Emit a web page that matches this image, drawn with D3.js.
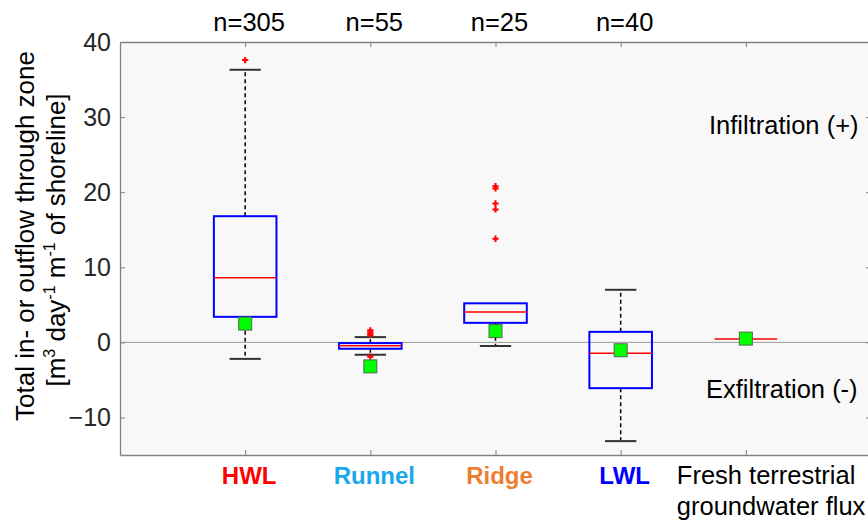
<!DOCTYPE html>
<html>
<head>
<meta charset="utf-8">
<script src="https://cdn.jsdelivr.net/npm/d3@7"></script>
<style>
  body { margin: 0; background: #fff; }
  svg { font-family: "Liberation Sans", Arial, sans-serif; }
  .axis path, .axis line { stroke: #808080; }
  .axis text { fill: #262626; font-size: 25px; }
</style>
</head>
<body>
<svg id="chart" width="868" height="523"></svg>
<script>
// zones along the beach profile
const categories = ["HWL", "Runnel", "Ridge", "LWL", "Fresh terrestrial groundwater flux"];
const categoryColors = ["#ff0000", "#1aa7ec", "#ed7d31", "#0000ff", "#000000"];
const counts = ["n=305", "n=55", "n=25", "n=40"];

// box statistics, m3 day-1 m-1 of shoreline
const q1 = [3.4, -0.85, 2.6, -6.1, 0.45];
const median = [8.6, -0.45, 4.05, -1.45, 0.45];
const q3 = [16.8, -0.1, 5.2, 1.4, 0.45];
const whiskerLow = [-2.2, -1.65, -0.5, -13.15, null];
const whiskerHigh = [36.3, 0.7, 5.2, 7.0, null];
const means = [2.5, -3.2, 1.5, -1.05, 0.5];
const outliers = [[37.6], [1.6, 1.3, 1.0, -1.9], [20.8, 20.5, 18.5, 17.7, 13.8], [], []];

const yTicks = [-10, 0, 10, 20, 30, 40];

const width = 868;
const height = 523;
const margin = { top: 42, right: -3, bottom: 68, left: 120 };
const fs = 25.5;

const svg = d3.select("#chart");

const x = d3.scaleLinear().domain([0, 6]).range([margin.left, width - margin.right]);
const y = d3.scaleLinear().domain([-15, 40]).range([height - margin.bottom, margin.top]);

const boxHalf = (x(1) - x(0)) * 0.25;
const capHalf = (x(1) - x(0)) * 0.125;

// plot background
svg.append("rect")
  .attr("x", x(0)).attr("y", y(40))
  .attr("width", x(6) - x(0)).attr("height", y(-15) - y(40))
  .attr("fill", "#f8f8f8");

// zero line
svg.append("line")
  .attr("x1", x(0)).attr("x2", x(6))
  .attr("y1", y(0)).attr("y2", y(0))
  .attr("stroke", "#999").attr("stroke-width", 1);

// axes, ticks pointing inward like the matlab box
const idx = d3.range(1, categories.length + 1);

svg.append("g").attr("class", "axis")
  .attr("transform", `translate(${x(0)},0)`)
  .call(d3.axisLeft(y).tickValues(yTicks).tickSizeInner(-5).tickSizeOuter(0).tickPadding(9));

svg.append("g").attr("class", "axis")
  .attr("transform", `translate(${x(6)},0)`)
  .call(d3.axisRight(y).tickValues(yTicks).tickSizeInner(-5).tickSizeOuter(0).tickFormat(""));

svg.append("g").attr("class", "axis")
  .attr("transform", `translate(0,${y(-15)})`)
  .call(d3.axisBottom(x).tickValues(idx).tickSizeInner(-5).tickSizeOuter(0).tickFormat(""));

svg.append("g").attr("class", "axis")
  .attr("transform", `translate(0,${y(40)})`)
  .call(d3.axisTop(x).tickValues(idx).tickSizeInner(-5).tickSizeOuter(0).tickFormat(""));

svg.selectAll(".axis .domain").attr("stroke-width", 1.3);

const groups = svg.append("g").selectAll("g")
  .data(categories)
  .join("g")
  .attr("transform", (d, i) => `translate(${x(i + 1)},0)`);

// whiskers
groups.each(function (d, i) {
  if (whiskerHigh[i] === null) return;
  const g = d3.select(this);
  g.append("line")
    .attr("y1", y(q3[i])).attr("y2", y(whiskerHigh[i]))
    .attr("stroke", "#000").attr("stroke-width", 1.5).attr("stroke-dasharray", "4,3");
  g.append("line")
    .attr("y1", y(q1[i])).attr("y2", y(whiskerLow[i]))
    .attr("stroke", "#000").attr("stroke-width", 1.5).attr("stroke-dasharray", "4,3");
  [whiskerHigh[i], whiskerLow[i]].forEach(v => {
    if (v === q3[i]) return; // cap hidden under the box edge
    g.append("line")
      .attr("x1", -capHalf).attr("x2", capHalf)
      .attr("y1", y(v)).attr("y2", y(v))
      .attr("stroke", "#333").attr("stroke-width", 2);
  });
});

// boxes
groups.filter((d, i) => q3[i] > q1[i]).append("rect")
  .attr("x", -boxHalf)
  .attr("width", boxHalf * 2)
  .attr("y", d => y(q3[categories.indexOf(d)]))
  .attr("height", d => y(q1[categories.indexOf(d)]) - y(q3[categories.indexOf(d)]))
  .attr("fill", "none")
  .attr("stroke", "#0000ff")
  .attr("stroke-width", 2);

// medians
groups.append("line")
  .attr("x1", -boxHalf).attr("x2", boxHalf)
  .attr("y1", (d, i) => y(median[i])).attr("y2", (d, i) => y(median[i]))
  .attr("stroke", "#ff0000").attr("stroke-width", 1.5);

// outliers as red plus signs
const plus = d3.symbol().type(d3.symbolCross).size(22);
groups.each(function (d, i) {
  d3.select(this).selectAll("path.out")
    .data(outliers[i])
    .join("path")
    .attr("class", "out")
    .attr("transform", v => `translate(0,${y(v)})`)
    .attr("d", plus)
    .attr("fill", "#ff0000");
});

// means
groups.append("rect")
  .attr("x", -6.5).attr("width", 13)
  .attr("y", (d, i) => y(means[i]) - 6.5).attr("height", 13)
  .attr("fill", "#00ff00")
  .attr("stroke", "#4d6b4d")
  .attr("stroke-width", 1);

// sample size labels
svg.append("g").selectAll("text")
  .data(counts)
  .join("text")
  .attr("x", (d, i) => x(i + 1) + 4)
  .attr("y", 31)
  .attr("text-anchor", "middle")
  .attr("font-size", fs)
  .attr("fill", "#000")
  .text(d => d);

// category labels
const catLabels = svg.append("g").selectAll("text")
  .data(categories)
  .join("text")
  .attr("y", 484)
  .attr("font-size", 24)
  .attr("fill", (d, i) => categoryColors[i]);

catLabels.filter((d, i) => i < 4)
  .attr("x", (d, i) => x(i + 1) + 4)
  .attr("text-anchor", "middle")
  .attr("font-weight", "bold")
  .text(d => d);

catLabels.filter((d, i) => i === 4)
  .attr("font-size", fs)
  .attr("text-anchor", "start")
  .each(function () {
    const t = d3.select(this);
    t.append("tspan").attr("x", x(5) - 69).text("Fresh terrestrial");
    t.append("tspan").attr("x", x(5) - 69).attr("dy", 31).text("groundwater flux");
  });

// annotations
svg.append("text")
  .attr("x", 709).attr("y", 134)
  .attr("font-size", fs)
  .text("Infiltration (+)");

svg.append("text")
  .attr("x", 706).attr("y", 398)
  .attr("font-size", fs)
  .text("Exfiltration (-)");

// y axis title
svg.append("text")
  .attr("transform", "translate(34,236) rotate(-90)")
  .attr("text-anchor", "middle")
  .attr("font-size", 26)
  .text("Total in- or outflow through zone");

const yl2 = svg.append("text")
  .attr("transform", "translate(65,240) rotate(-90)")
  .attr("text-anchor", "middle")
  .attr("font-size", 26);
yl2.append("tspan").text("[m");
yl2.append("tspan").attr("font-size", 16).attr("dy", -10).text("3");
yl2.append("tspan").attr("dy", 10).text(" day");
yl2.append("tspan").attr("font-size", 16).attr("dy", -10).text("-1");
yl2.append("tspan").attr("dy", 10).text(" m");
yl2.append("tspan").attr("font-size", 16).attr("dy", -10).text("-1");
yl2.append("tspan").attr("dy", 10).text(" of shoreline]");
</script>
</body>
</html>
